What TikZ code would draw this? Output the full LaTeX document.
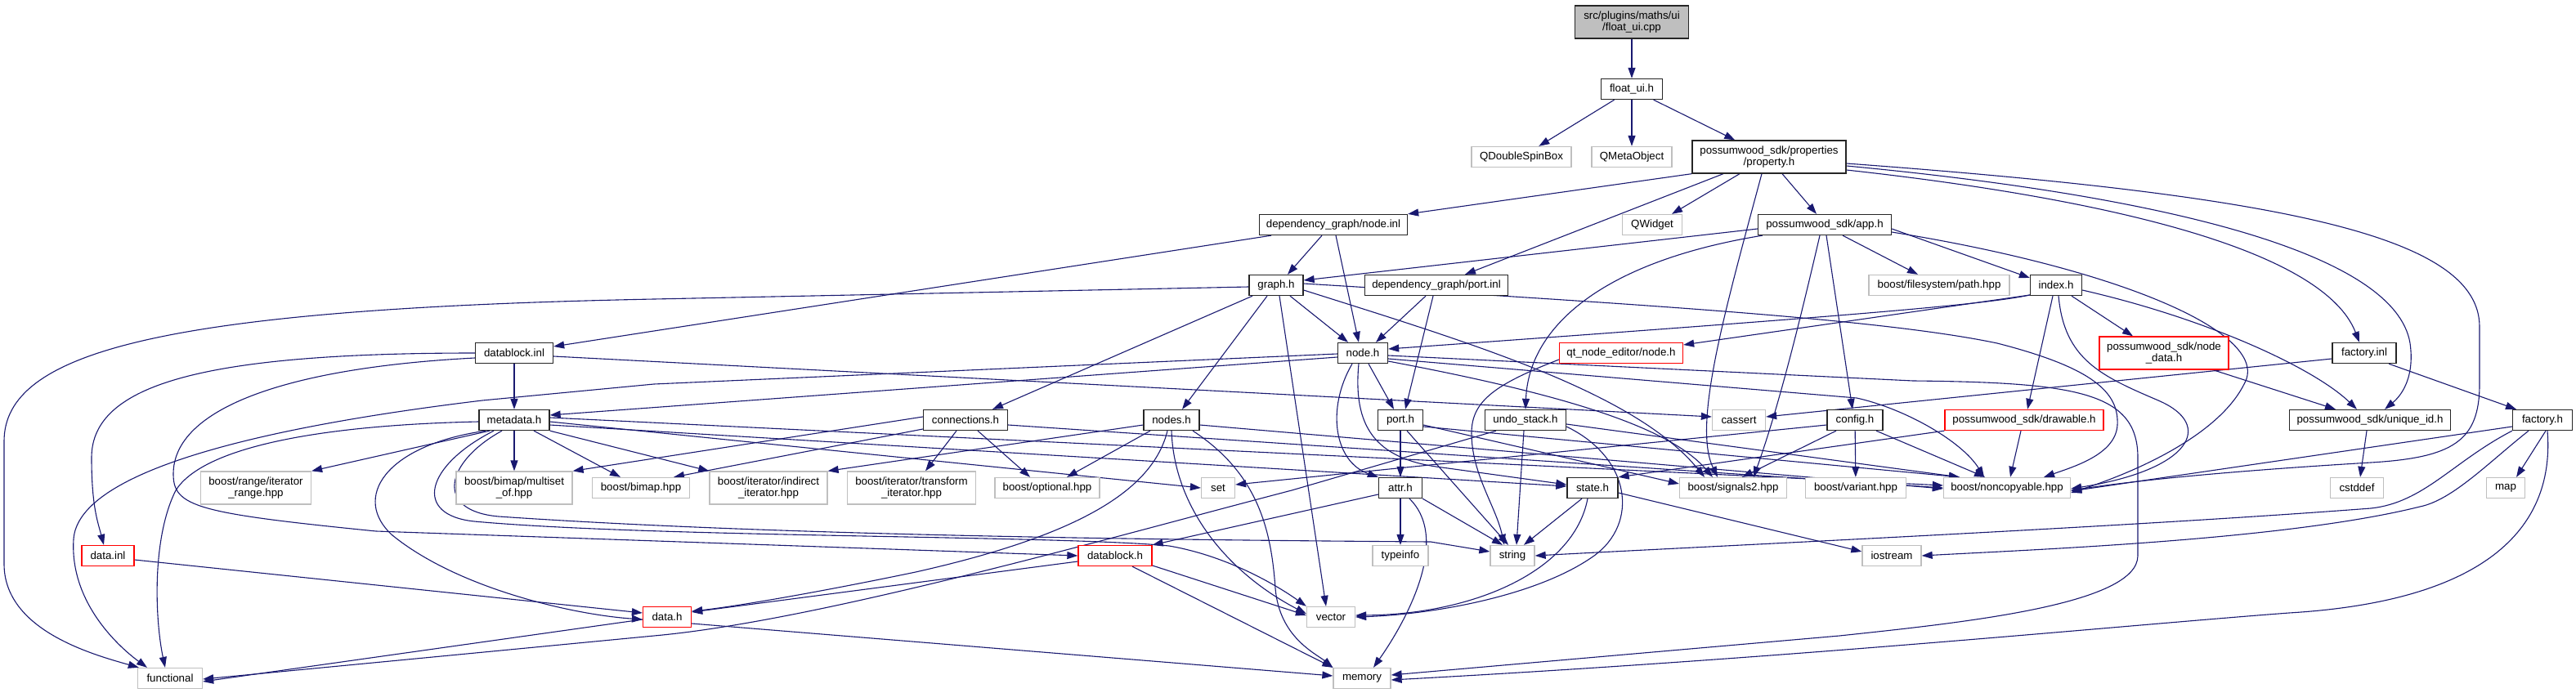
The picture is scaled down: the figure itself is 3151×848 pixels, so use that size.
\documentclass[tikz,border=0pt]{standalone}
\usepackage{fontspec}
\newfontfamily\dxfam{Liberation Sans}
\usetikzlibrary{arrows.meta}
\definecolor{edgeblue}{HTML}{191970}
\definecolor{extgray}{HTML}{BFBFBF}
\definecolor{truncred}{HTML}{FF0000}
\newcommand\dxf{\dxfam\fontsize{13.3pt}{14pt}\selectfont}
\pgfdeclarelayer{edgelayer}
\pgfsetlayers{edgelayer,main}
\tikzset{
 nd/.style={draw=black!85, line width=1.3pt, fill=white, rectangle, inner sep=0pt, minimum height=25pt, align=center, font=\dxf, text=black},
 ext/.style={nd, draw=extgray},
 trn/.style={nd, draw=truncred},
 rootnd/.style={nd, fill=extgray},
 tall/.style={minimum height=40pt},
 e/.style={draw=edgeblue, line width=1.1pt, -{Triangle[length=13pt,width=9pt]}},
}
\begin{document}
\begin{tikzpicture}[x=1pt,y=-1pt]
\useasboundingbox (0,0) rectangle (3151,848);
\node[rootnd,tall,minimum width=139pt] (cpp) at (1996,27) {src/plugins/maths/ui\\/float\_ui.cpp};
\node[nd,minimum width=75pt] (floatui) at (1996,109) {float\_ui.h};
\node[ext,minimum width=122pt] (qdsb) at (1861,192) {QDoubleSpinBox};
\node[ext,minimum width=98pt] (qmeta) at (1996,192) {QMetaObject};
\node[nd,tall,minimum width=188pt] (prop) at (2164,192) {possumwood\_sdk/properties\\/property.h};
\node[nd,minimum width=181pt] (nodeinl) at (1631,275) {dependency\_graph/node.inl};
\node[ext,minimum width=73pt] (qwidget) at (2021,275) {QWidget};
\node[nd,minimum width=163pt] (apph) at (2232,275) {possumwood\_sdk/app.h};
\node[nd,minimum width=66pt] (graph) at (1561,349) {graph.h};
\node[nd,minimum width=175pt] (portinl) at (1757,349) {dependency\_graph/port.inl};
\node[ext,minimum width=172pt] (path) at (2372,349) {boost/filesystem/path.hpp};
\node[nd,minimum width=63pt] (index) at (2515,349) {index.h};
\node[nd,minimum width=95pt] (datablockinl) at (629,432) {datablock.inl};
\node[nd,minimum width=61pt] (nodeh) at (1667,432) {node.h};
\node[trn,minimum width=151pt] (qtnode) at (1983,432) {qt\_node\_editor/node.h};
\node[trn,tall,minimum width=158pt] (nodedata) at (2647,432) {possumwood\_sdk/node\\\_data.h};
\node[nd,minimum width=78pt] (factoryinl) at (2892,432) {factory.inl};
\node[nd,minimum width=86pt] (metadata) at (629,514) {metadata.h};
\node[nd,minimum width=103pt] (connections) at (1181,514) {connections.h};
\node[nd,minimum width=68pt] (nodes) at (1433,514) {nodes.h};
\node[nd,minimum width=55pt] (porth) at (1713,514) {port.h};
\node[nd,minimum width=99pt] (undo) at (1866,514) {undo\_stack.h};
\node[ext,minimum width=65pt] (cassert) at (2127,514) {cassert};
\node[nd,minimum width=68pt] (config) at (2269,514) {config.h};
\node[trn,minimum width=194pt] (drawable) at (2476,514) {possumwood\_sdk/drawable.h};
\node[nd,minimum width=197pt] (uniqueid) at (2899,514) {possumwood\_sdk/unique\_id.h};
\node[nd,minimum width=73pt] (factoryh) at (3110,514) {factory.h};
\node[ext,tall,minimum width=135pt] (range) at (313,597) {boost/range/iterator\\\_range.hpp};
\node[ext,tall,minimum width=142pt] (multiset) at (629,597) {boost/bimap/multiset\\\_of.hpp};
\node[ext,minimum width=119pt] (bimap) at (784,597) {boost/bimap.hpp};
\node[ext,tall,minimum width=144pt] (indirect) at (940,597) {boost/iterator/indirect\\\_iterator.hpp};
\node[ext,tall,minimum width=157pt] (transform) at (1115,597) {boost/iterator/transform\\\_iterator.hpp};
\node[ext,minimum width=128pt] (optional) at (1281,597) {boost/optional.hpp};
\node[ext,minimum width=41pt] (set) at (1490,597) {set};
\node[nd,minimum width=53pt] (attr) at (1713,597) {attr.h};
\node[nd,minimum width=62pt] (state) at (1948,597) {state.h};
\node[ext,minimum width=131pt] (signals2) at (2120,597) {boost/signals2.hpp};
\node[ext,minimum width=123pt] (variant) at (2270,597) {boost/variant.hpp};
\node[ext,minimum width=155pt] (noncopy) at (2455,597) {boost/noncopyable.hpp};
\node[ext,minimum width=65pt] (cstddef) at (2883,597) {cstddef};
\node[ext,minimum width=47pt] (map) at (3065,597) {map};
\node[trn,minimum width=64pt] (datainl) at (132,680) {data.inl};
\node[trn,minimum width=90pt] (datablockh) at (1364,680) {datablock.h};
\node[ext,minimum width=68pt] (typeinfo) at (1713,680) {typeinfo};
\node[ext,minimum width=54pt] (string) at (1850,680) {string};
\node[ext,minimum width=72pt] (iostream) at (2314,680) {iostream};
\node[trn,minimum width=59pt] (datah) at (816,755) {data.h};
\node[ext,minimum width=59pt] (vector) at (1628,755) {vector};
\node[ext,minimum width=79pt] (functional) at (208,830) {functional};
\node[ext,minimum width=70pt] (memory) at (1666,830) {memory};

\begin{pgfonlayer}{edgelayer}
% top
\draw[e] (cpp) -- (floatui);
\draw[e] (floatui) -- (qdsb);
\draw[e] (floatui) -- (qmeta);
\draw[e] (floatui) -- (prop);
% property.h
\draw[e] (prop.south west) -- (nodeinl.north east);
\draw[e] ([xshift=-56pt]prop.south) -- ([xshift=35pt]portinl.north);
\draw[e] ([xshift=-36pt]prop.south) -- ([xshift=24pt]qwidget.north);
\draw[e] ([xshift=16pt]prop.south) -- ([xshift=-10pt]apph.north);
\draw[e] ([xshift=-9pt]prop.south) .. controls (2110,380) and (2070,520) .. ([xshift=-19pt]signals2.north);
\draw[e] ([yshift=-16pt]prop.east) .. controls (2550,240) and (2840,300) .. ([xshift=-6pt]factoryinl.north);
\draw[e] ([yshift=-11pt]prop.east) .. controls (2650,240) and (2930,310) .. (2948,420) .. controls (2955,470) and (2930,490) .. ([xshift=18pt]uniqueid.north);
\draw[e] ([yshift=-8pt]prop.east) .. controls (2800,240) and (3033,290) .. (3033,400) -- (3033,470) .. controls (3033,540) and (3000,560) .. (2900,566) .. controls (2700,578) and (2600,590) .. ([yshift=-3pt]noncopy.east);
% app.h
\draw[e] ([yshift=-5pt]apph.west) -- ([yshift=6pt]graph.east);
\draw[e] ([xshift=6pt]apph.south west) .. controls (1960,320) and (1870,400) .. (undo.north);
\draw[e] ([xshift=-6pt]apph.south) .. controls (2200,400) and (2175,500) .. ([xshift=25pt]signals2.north);
\draw[e] ([xshift=2pt]apph.south) -- ([xshift=-3pt]config.north);
\draw[e] ([xshift=22pt]apph.south) -- ([xshift=-26pt]path.north);
\draw[e] ([yshift=-5pt]apph.east) -- ([yshift=9pt]index.west);
\draw[e] ([yshift=-9pt]apph.east) .. controls (2600,330) and (2780,410) .. (2745,470) .. controls (2715,530) and (2620,575) .. ([yshift=-6pt]noncopy.east);
% node.inl, port.inl
\draw[e] ([xshift=-14pt]nodeinl.south) -- ([xshift=14pt]graph.north);
\draw[e] ([xshift=3pt]nodeinl.south) -- ([xshift=-5pt]nodeh.north);
\draw[e] ([xshift=-76pt]nodeinl.south) -- ([yshift=8pt]datablockinl.east);
\draw[e] ([xshift=-13pt]portinl.south) -- ([xshift=16pt]nodeh.north);
\draw[e] ([xshift=-4pt]portinl.south) -- ([xshift=6pt]porth.north);
% graph.h
\draw[e] ([xshift=17pt]graph.south) -- ([xshift=-18pt]nodeh.north);
\draw[e] ([xshift=-29pt]graph.south) -- ([xshift=33pt]connections.north);
\draw[e] ([xshift=-11pt]graph.south) -- ([xshift=13pt]nodes.north);
\draw[e] ([xshift=4pt]graph.south) -- ([xshift=-6pt]vector.north);
\draw[e] ([yshift=-2pt]graph.west) -- (800,366) .. controls (200,378) and (5,430) .. (5,540) -- (5,690) .. controls (5,770) and (110,800) .. ([xshift=2pt]functional.north west);
\draw[e] ([yshift=-6pt]graph.east) .. controls (1800,420) and (2000,480) .. ([xshift=-35pt]signals2.north);
\draw[e] ([yshift=2pt]graph.east) .. controls (2000,372) and (2300,390) .. (2443,420) .. controls (2560,450) and (2592,480) .. (2590,520) .. controls (2588,555) and (2540,570) .. ([xshift=45pt]noncopy.north);
% index.h
\draw[e] ([yshift=-12pt]index.west) .. controls (2430,372) and (2300,384) .. ([yshift=5pt]nodeh.east);
\draw[e] ([yshift=-12pt]index.west) -- ([yshift=10pt]qtnode.east);
\draw[e] ([xshift=19pt]index.south) -- ([xshift=-38pt]nodedata.north);
\draw[e] ([xshift=-4pt]index.south) -- ([xshift=4pt]drawable.north);
\draw[e] ([yshift=-6pt]index.east) .. controls (2700,390) and (2830,450) .. ([xshift=-16pt]uniqueid.north);
\draw[e] ([xshift=3pt]index.south) .. controls (2525,440) and (2570,460) .. (2640,490) .. controls (2710,520) and (2680,575) .. ([yshift=-1pt]noncopy.east);
\draw[e] ([xshift=60pt]nodedata.south) -- ([xshift=-42pt]uniqueid.north);
% factory
\draw[e] ([yshift=-7pt]factoryinl.west) -- ([yshift=4pt]cassert.east);
\draw[e] ([xshift=30pt]factoryinl.south) -- ([xshift=-32pt]factoryh.north);
\draw[e] ([yshift=-8pt]factoryh.west) -- ([yshift=-4pt]noncopy.east);
\draw[e] (factoryh.south west) .. controls (3000,565) and (2965,615) .. (2900,622) .. controls (2600,645) and (2100,668) .. (string.east);
\draw[e] ([xshift=-17pt]factoryh.south) .. controls (3045,565) and (3000,612) .. (2960,620) .. controls (2800,660) and (2500,672) .. (iostream.east);
\draw[e] ([xshift=4pt]factoryh.south) -- ([xshift=13pt]map.north);
\draw[e] ([xshift=6pt]factoryh.south) .. controls (3125,640) and (3050,735) .. (2800,750) .. controls (2600,765) and (2200,805) .. ([yshift=-2pt]memory.east);
\draw[e] ([xshift=-4pt]uniqueid.south) -- ([xshift=4pt]cstddef.north);
% datablock.inl
\draw[e] (datablockinl) -- (metadata);
\draw[e] ([yshift=-4pt]datablockinl.east) -- ([yshift=4pt]cassert.west);
\draw[e] (datablockinl.west) .. controls (250,432) and (112,470) .. (112,560) .. controls (112,620) and (120,640) .. ([xshift=-5pt]datainl.north);
\draw[e] ([yshift=-6pt]datablockinl.west) .. controls (350,450) and (212,500) .. (212,580) .. controls (212,620) and (240,628) .. (460,650) -- (datablockh.west);
% metadata.h
\draw[e] ([xshift=-30pt]metadata.south) -- (range.north east);
\draw[e] ([xshift=-35pt]metadata.south) .. controls (470,545) and (430,610) .. (480,655) .. controls (560,720) and (700,752) .. ([yshift=-3pt]datah.west);
\draw[e] (metadata) -- (multiset);
\draw[e] ([xshift=24pt]metadata.south) -- ([xshift=-25pt]bimap.north);
\draw[e] (metadata.south east) -- (indirect.north west);
\draw[e] ([yshift=-2pt]metadata.east) -- (set.west);
\draw[e] ([xshift=-15pt]metadata.south) .. controls (545,565) and (530,625) .. (610,632) .. controls (900,652) and (1300,660) .. (1750,663) -- ([yshift=5pt]string.west);
\draw[e] ([xshift=-25pt]metadata.south) .. controls (520,570) and (505,630) .. (580,638) .. controls (800,658) and (1300,655) .. (1430,668) .. controls (1500,680) and (1560,715) .. (vector.north west);
\draw[e] ([yshift=3pt]metadata.east) -- ([yshift=3pt]noncopy.west);
\draw[e] ([yshift=-6pt]metadata.east) -- ([yshift=2pt]state.west);
\draw[e] ([yshift=-2pt]metadata.west) .. controls (400,520) and (250,545) .. (215,600) .. controls (185,660) and (190,760) .. ([xshift=-6pt]functional.north);
% connections.h
\draw[e] ([yshift=4pt]connections.west) -- (multiset.north east);
\draw[e] ([yshift=-11pt]connections.west) -- ([xshift=40pt]bimap.north);
\draw[e] ([xshift=-11pt]connections.south) -- ([xshift=17pt]transform.north);
\draw[e] ([xshift=15pt]connections.south) -- ([xshift=-21pt]optional.north);
\draw[e] ([yshift=-6pt]connections.east) -- (noncopy.west);
% nodes.h
\draw[e] ([yshift=-6pt]nodes.west) -- (indirect.north east);
\draw[e] ([xshift=-26pt]nodes.south) -- ([xshift=24pt]optional.north);
\draw[e] ([xshift=-5pt]nodes.south) .. controls (1410,600) and (1320,655) .. (1120,700) .. controls (1000,725) and (900,742) .. ([yshift=7pt]datah.east);
\draw[e] (nodes.south) .. controls (1436,620) and (1500,700) .. ([yshift=4pt]vector.west);
\draw[e] ([xshift=26pt]nodes.south) .. controls (1540,580) and (1555,650) .. (1560,720) .. controls (1565,780) and (1610,800) .. (memory.north west);
\draw[e] ([yshift=-6pt]nodes.east) -- ([yshift=-1pt]noncopy.west);
% node.h
\draw[e] ([xshift=7pt]nodeh.south) -- ([xshift=-8pt]porth.north);
\draw[e] ([yshift=-5pt]nodeh.west) -- ([yshift=6pt]metadata.east);
\draw[e] ([yshift=-1pt]nodeh.west) -- (800,470) -- (590,490) .. controls (300,525) and (95,580) .. (90,660) .. controls (85,740) and (150,795) .. ([xshift=-28pt]functional.north);
\draw[e] ([xshift=-13pt]nodeh.south) .. controls (1622,500) and (1632,565) .. (attr.north west);
\draw[e] ([xshift=-5pt]nodeh.south) .. controls (1655,520) and (1680,562) .. (1764,572) -- ([yshift=4pt]state.west);
\draw[e] ([yshift=-3pt]nodeh.east) -- (2340,466) .. controls (2540,468) and (2615,480) .. (2615,560) -- (2615,680) .. controls (2615,740) and (2400,762) .. (2250,778) -- ([yshift=4pt]memory.east);
\draw[e] ([yshift=-7pt]nodeh.east) -- (2271,487) .. controls (2330,500) and (2400,540) .. ([xshift=-28pt]noncopy.north);
\draw[e] ([yshift=-10pt]nodeh.east) .. controls (1900,480) and (2040,520) .. ([xshift=-25pt]signals2.north);
% port.h
\draw[e] (porth) -- (attr);
\draw[e] ([xshift=8pt]porth.south) -- ([xshift=-5pt]string.north);
\draw[e] ([yshift=-6pt]porth.east) -- ([yshift=5pt]signals2.west);
\draw[e] ([yshift=-8pt]porth.east) -- ([xshift=-58pt]noncopy.north);
% qt node editor
\draw[e] ([yshift=-8pt]qtnode.west) .. controls (1830,470) and (1800,490) .. (1800,530) .. controls (1800,580) and (1830,620) .. ([xshift=-10pt]string.north);
% undo_stack.h
\draw[e] ([xshift=-36pt]undo.south) -- (1580,600) .. controls (1350,660) and (1000,760) .. (800,778) -- ([yshift=-1pt]functional.east);
\draw[e] ([xshift=-2pt]undo.south) -- ([xshift=5pt]string.north);
\draw[e] ([yshift=-8pt]undo.east) .. controls (1995,560) and (2005,640) .. (1950,680) .. controls (1880,730) and (1750,752) .. (vector.east);
\draw[e] ([yshift=-5pt]undo.east) -- ([xshift=-58pt]noncopy.north);
% config.h
\draw[e] ([xshift=-23pt]config.south) -- ([xshift=11pt]signals2.north);
\draw[e] (config) -- (variant);
\draw[e] ([xshift=26pt]config.south) -- ([xshift=-27pt]noncopy.north);
\draw[e] ([yshift=-6pt]config.west) -- ([yshift=4pt]set.east);
% drawable.h
\draw[e] (drawable.south west) -- (state.north east);
\draw[e] ([xshift=-4pt]drawable.south) -- ([xshift=4pt]noncopy.north);
% datablock.h, data
\draw[e] ([yshift=-7pt]datablockh.west) -- ([yshift=6pt]datah.east);
\draw[e] ([yshift=-12pt]datablockh.east) -- ([yshift=2pt]vector.west);
\draw[e] ([xshift=21pt]datablockh.south) -- (memory.north west);
\draw[e] ([yshift=-3pt]datah.west) -- ([yshift=-4pt]functional.east);
\draw[e] ([yshift=-8pt]datah.east) -- ([yshift=3pt]memory.west);
\draw[e] ([yshift=-5pt]datainl.east) -- ([yshift=5pt]datah.west);
% attr.h
\draw[e] (attr) -- (typeinfo);
\draw[e] (attr.south east) -- ([xshift=-12pt]string.north);
\draw[e] ([xshift=11pt]attr.south) .. controls (1775,660) and (1720,760) .. ([xshift=14pt]memory.north);
\draw[e] ([yshift=-8pt]attr.west) -- (datablockh.north east);
% state.h
\draw[e] ([xshift=-13pt]state.south) -- ([xshift=14pt]string.north);
\draw[e] ([xshift=-6pt]state.south) .. controls (1925,700) and (1800,752) .. ([yshift=2pt]vector.east);
\draw[e] ([yshift=-6pt]state.east) -- ([yshift=5pt]iostream.west);
\end{pgfonlayer}
\end{tikzpicture}
\end{document}
